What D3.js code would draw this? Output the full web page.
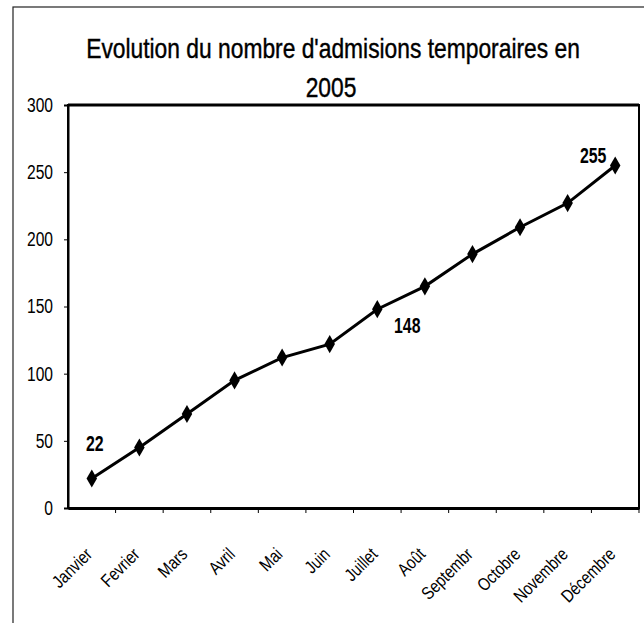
<!DOCTYPE html>
<html>
<head>
<meta charset="utf-8">
<script src="https://cdn.jsdelivr.net/npm/d3@7"></script>
<style>
  body { margin: 0; background: #fff; }
  svg { display: block; font-family: "Liberation Sans Narrow", "Arial Narrow", "Liberation Sans", sans-serif; }
</style>
</head>
<body>
<div id="chart"></div>
<script>
// data
const months = ["Janvier", "Fevrier", "Mars", "Avril", "Mai", "Juin",
                "Juillet", "Août", "Septembr", "Octobre", "Novembre", "Décembre"];
const admissions = [22, 45, 70, 95, 112, 122, 148, 165, 189, 209, 227, 255];
const yTicks = [0, 50, 100, 150, 200, 250, 300];
const labelled = ["Janvier", "Juillet", "Décembre"];

const width = 644, height = 623;
const margin = { top: 105, right: 5, bottom: 115, left: 68 };

// no narrow font installed, so squeeze text horizontally
function squeeze(sel, factor) {
    sel.each(function () {
        const len = this.getComputedTextLength();
        d3.select(this)
            .attr("textLength", len * factor)
            .attr("lengthAdjust", "spacingAndGlyphs");
    });
}

const svg = d3.select("#chart").append("svg")
    .attr("width", width)
    .attr("height", height);

// outer frame of the scanned page
svg.append("rect")
    .attr("x", 13).attr("y", 7)
    .attr("width", 700).attr("height", 700)
    .attr("fill", "none")
    .attr("stroke", "#222")
    .attr("stroke-width", 1.2);

// title, scaled narrower with a transform
const titleLines = [
    { text: "Evolution du nombre d'admisions temporaires en", x: 333, y: 58 },
    { text: "2005", x: 331, y: 97 }
];
svg.append("g")
    .selectAll("text")
    .data(titleLines)
    .join("text")
    .attr("transform", d => `translate(${d.x},${d.y}) scale(0.845,1)`)
    .attr("text-anchor", "middle")
    .attr("font-size", 27)
    .attr("stroke", "#000")
    .attr("stroke-width", 0.4)
    .text(d => d.text);

// scales
const x = d3.scaleBand()
    .domain(months)
    .range([margin.left, width - margin.right]);

const y = d3.scaleLinear()
    .domain([0, 300])
    .range([height - margin.bottom, margin.top]);

// plot frame
svg.append("rect")
    .attr("x", margin.left)
    .attr("y", margin.top)
    .attr("width", width - margin.right - margin.left)
    .attr("height", y(0) - margin.top)
    .attr("fill", "none")
    .attr("stroke", "#000")
    .attr("stroke-width", 2);
svg.append("line")
    .attr("x1", margin.left).attr("x2", width - margin.right)
    .attr("y1", margin.top).attr("y2", margin.top)
    .attr("stroke", "#000")
    .attr("stroke-width", 3);

// y axis
const yAxis = svg.append("g")
    .attr("transform", `translate(${margin.left},0)`)
    .call(d3.axisLeft(y).tickValues(yTicks).tickSize(4).tickPadding(11));
yAxis.select(".domain").attr("stroke-width", 2);
yAxis.selectAll("text")
    .attr("font-size", 20)
    .attr("fill", "#000")
    .call(squeeze, 0.78);

// x axis, ticks between categories like the spreadsheet
const xAxis = svg.append("g")
    .attr("transform", `translate(0,${y(0)})`)
    .call(d3.axisBottom(x).tickSize(0).tickPadding(0));
xAxis.select(".domain").attr("stroke-width", 3);
xAxis.selectAll(".tick line").remove();
xAxis.selectAll(".tick").append("line")
    .attr("x1", x.bandwidth() / 2).attr("x2", x.bandwidth() / 2)
    .attr("y1", 0).attr("y2", 5)
    .attr("stroke", "#000");
xAxis.selectAll("text")
    .attr("font-size", 18)
    .attr("fill", "#000")
    .attr("text-anchor", "end")
    .attr("transform", "translate(-3,43) rotate(-45)")
    .attr("dy", "0.35em")
    .call(squeeze, 0.82);

// line
const cx = m => x(m) + x.bandwidth() / 2;
const data = months.map((m, i) => ({ month: m, value: admissions[i] }));

svg.append("path")
    .datum(data)
    .attr("fill", "none")
    .attr("stroke", "#000")
    .attr("stroke-width", 3)
    .attr("d", d3.line().x(d => cx(d.month)).y(d => y(d.value)));

// diamond markers
svg.append("g")
    .selectAll("path")
    .data(data)
    .join("path")
    .attr("transform", d => `translate(${cx(d.month)},${y(d.value)})`)
    .attr("d", d3.symbol(d3.symbolDiamond, 95))
    .attr("fill", "#000");

// data labels
const labelOffset = { "Janvier": [3, -27], "Juillet": [30, 24], "Décembre": [-22, -2] };
svg.append("g")
    .selectAll("text")
    .data(data.filter(d => labelled.includes(d.month)))
    .join("text")
    .attr("x", d => cx(d.month) + labelOffset[d.month][0])
    .attr("y", d => y(d.value) + labelOffset[d.month][1])
    .attr("text-anchor", "middle")
    .attr("font-size", 22)
    .attr("font-weight", "bold")
    .text(d => d.value)
    .call(squeeze, 0.72);
</script>
</body>
</html>
